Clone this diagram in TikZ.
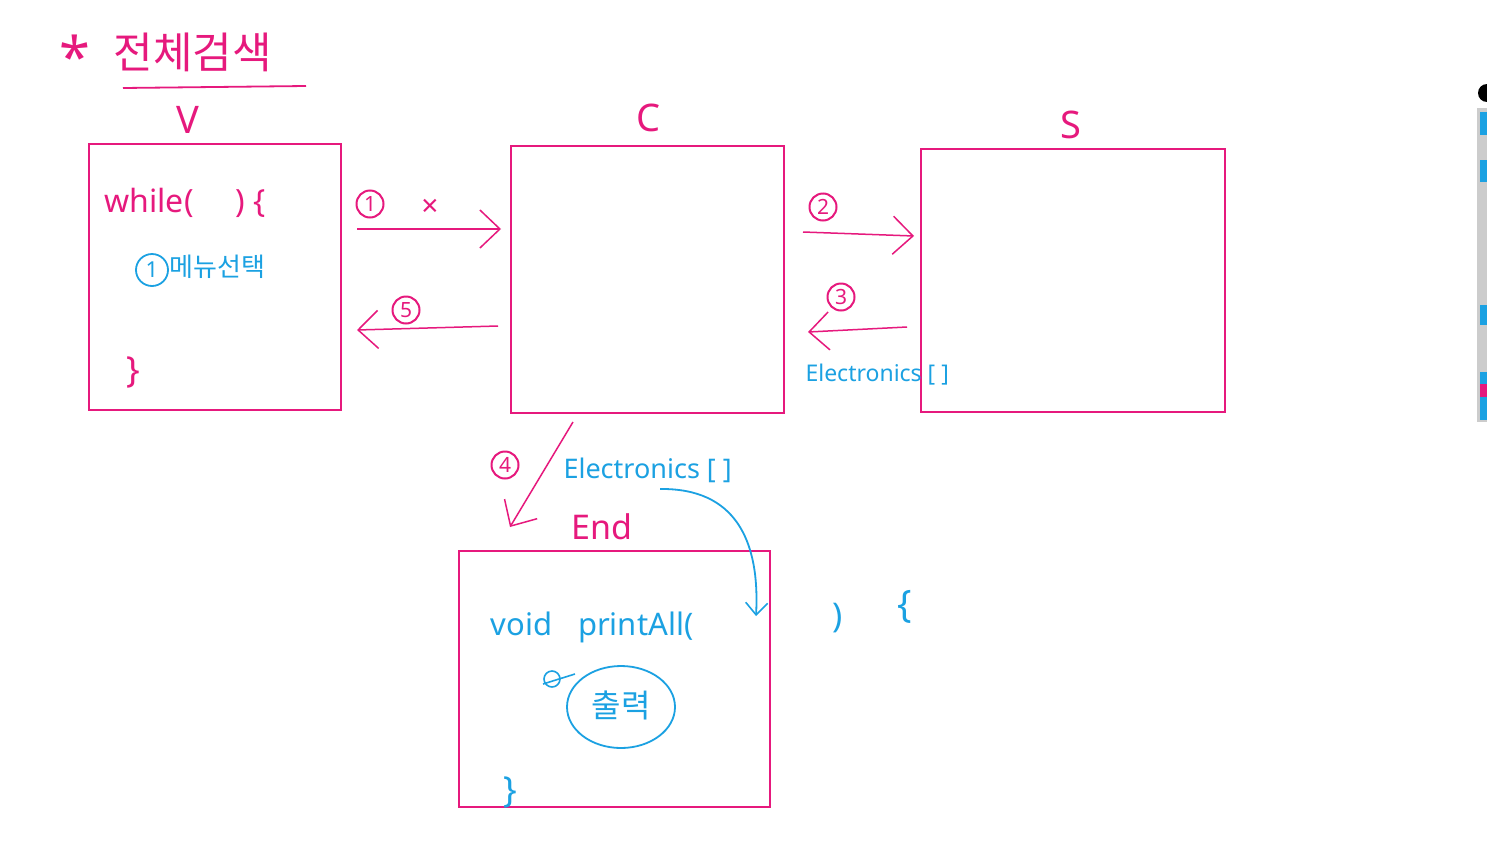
\documentclass[tikz,border=0pt]{standalone}
\usepackage{fontspec}
\setmainfont{Noto Sans}
\newfontfamily\kr{Noto Sans CJK KR}
\usetikzlibrary{arrows.meta,shapes.geometric}
\definecolor{pk}{HTML}{E6197D}
\definecolor{bl}{HTML}{1BA1E2}
\tikzset{
  box/.style={draw=pk, line width=1.8pt},
  arr/.style={draw=pk, line width=1.5pt, -{Straight Barb[length=20pt,width=38pt,line width=1.5pt]}},
  num/.style={circle, draw=pk, line width=2pt, text=pk, inner sep=0pt, minimum size=27pt, font=\fontsize{21}{21}\selectfont},
  pt/.style={text=pk, font=\fontsize{#1}{#1}\selectfont},
  bt/.style={text=bl, font=\fontsize{#1}{#1}\selectfont},
}
\begin{document}
\begin{tikzpicture}[x=1pt,y=-1pt]
\path[use as bounding box, fill=white] (0,0) rectangle (1487,846);

% title
\node[pt=56] (star) at (75,56) {*};
\node[pt=43, anchor=west] (title) at (110,52) {\kr 전체검색};
\coordinate (ul1) at (123,88); \coordinate (ul2) at (306,86);
\draw[pk, line width=1.8pt] (ul1) -- (ul2);

% boxes
\node[box, minimum width=252pt, minimum height=266pt, anchor=north west] (V) at (88,143) {};
\node[box, minimum width=273pt, minimum height=267pt, anchor=north west] (C) at (510,145) {};
\node[box, minimum width=304pt, minimum height=263pt, anchor=north west] (S) at (920,148) {};
\node[box, minimum width=311pt, minimum height=256pt, anchor=north west] (E) at (458,550) {};

\node[pt=38] (Vl) at (188,120) {V};
\node[pt=38] (Cl) at (648,118) {C};
\node[pt=38] (Sl) at (1071,125) {S};
\node[pt=34] (El) at (602,527) {End};

% V content
\node[pt=32, anchor=west] (while) at (101,203) {while(\hspace{42pt})\hspace{8pt}\{};
\node[circle, draw=bl, line width=1.8pt, text=bl, inner sep=0pt, minimum size=32pt, font=\fontsize{22}{22}\selectfont] (m1) at (152,270) {1};
\node[bt=26, anchor=west] (menu) at (166,267) {\kr 메뉴선택};
\node[pt=36] (vclose) at (133,372) {\}};

% arrows
\coordinate (a1s) at (357,229); \coordinate (a1e) at (501,229);
\draw[arr] (a1s) -- (a1e);
\node[num] (n1) at (370,204) {1};
\node[pt=30] (x1) at (430,208) {×};

\coordinate (a2s) at (803,232); \coordinate (a2e) at (914,236);
\draw[arr] (a2s) -- (a2e);
\node[num] (n2) at (823,207) {2};

\coordinate (a3s) at (907,327); \coordinate (a3e) at (808,332);
\draw[arr] (a3s) -- (a3e);
\node[num] (n3) at (841,297) {3};
\node[bt=23, anchor=west] (el3) at (802,375) {Electronics [ ]};

\coordinate (a5s) at (498,326); \coordinate (a5e) at (357,330);
\draw[arr] (a5s) -- (a5e);
\node[num] (n5) at (406,310) {5};

\coordinate (a4s) at (573,422); \coordinate (a4e) at (510,527);
\draw[arr] (a4s) -- (a4e);
\node[num] (n4) at (505,465) {4};
\node[bt=27, anchor=west] (el4) at (560,470) {Electronics [ ]};

% blue curve
\coordinate (cs) at (660,489); \coordinate (ce) at (756,616);
\draw[bl, line width=1.8pt, -{Straight Barb[length=12pt,width=22pt,line width=1.6pt]}] (cs) .. controls (735,488) and (760,540) .. (ce);

% End content
\node[bt=31, anchor=west] (void) at (487,627) {void\hspace{26pt}printAll(};
\node[bt=34] (rp) at (838,618) {)};
\node[bt=38] (lb) at (905,607) {\{};
\node[draw=bl, line width=1.8pt, ellipse, minimum width=108pt, minimum height=82pt, inner sep=0pt] (out) at (621,707) {};
\node[bt=32] (outt) at (621,705) {\kr 출력};
\coordinate (sc1) at (543,684); \coordinate (sc2) at (575,674);
\draw[bl, line width=1.6pt] (sc1) -- (sc2);
\draw[bl, line width=1.6pt] (552,679) circle (8pt);
\node[bt=36] (eclose) at (510,792) {\}};

% toolbar at right edge
\fill[gray!40] (1477,108) rectangle (1487,422);
\fill[bl] (1480,112) rectangle (1487,135);
\fill[bl] (1480,160) rectangle (1487,182);
\fill[bl] (1480,305) rectangle (1487,325);
\fill[bl] (1480,372) rectangle (1487,420);
\fill[pk] (1480,384) rectangle (1487,397);
\fill[black] (1487,93) circle (9pt);
\end{tikzpicture}
\end{document}
